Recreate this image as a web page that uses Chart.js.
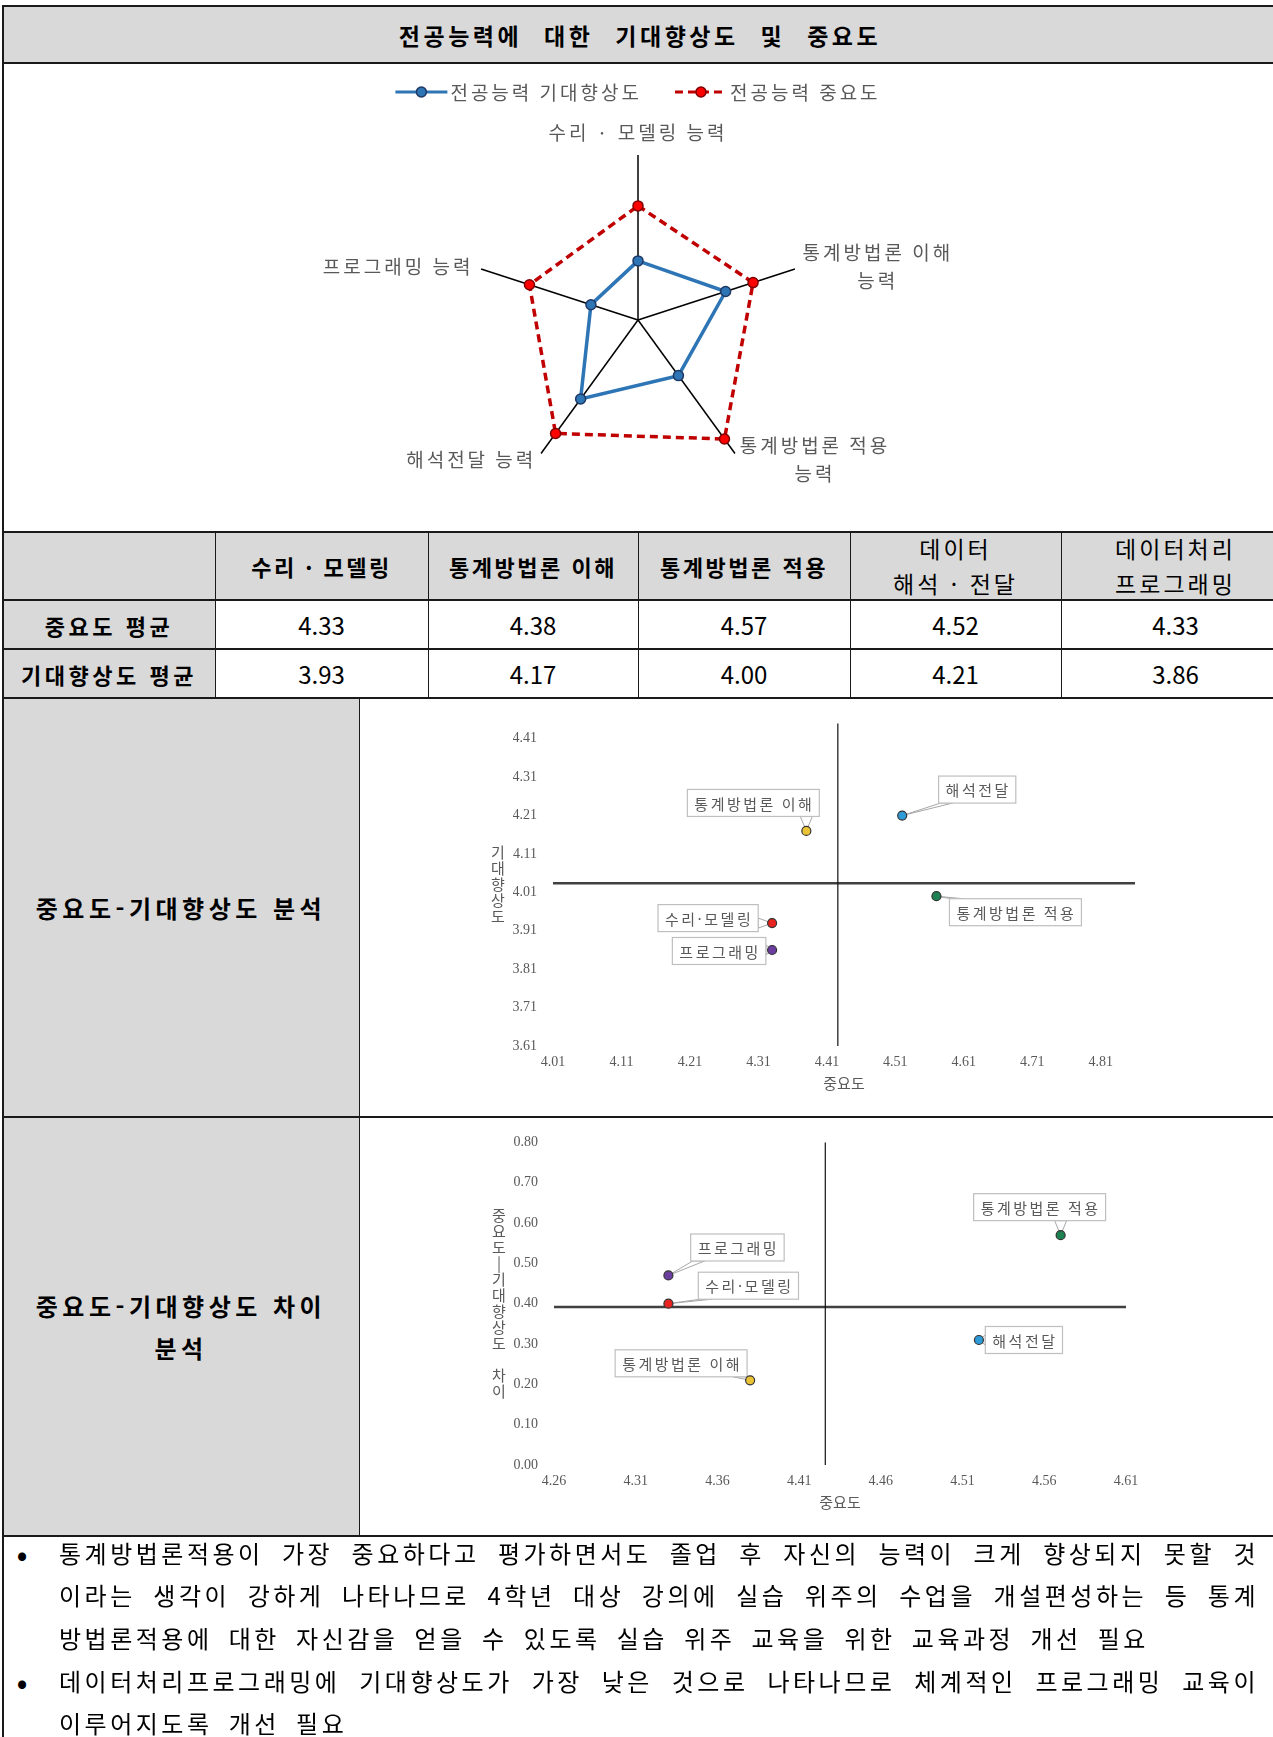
<!DOCTYPE html>
<html lang="ko">
<head>
<meta charset="utf-8">
<script src="https://cdn.jsdelivr.net/npm/chart.js@4.4.1/dist/chart.umd.min.js"></script>
<style>
  body { margin:0; width:1273px; height:1737px; overflow:hidden; background:#fff; position:relative;
         font-family:"Noto Sans CJK KR", sans-serif; color:#000; }
  .cell { position:absolute; display:flex; align-items:center; justify-content:center; text-align:center; box-sizing:border-box; }
  .gray { background:#d9d9d9; }
  .hl { position:absolute; left:3px; width:1290px; height:2px; background:#1a1a1a; }
  .vl { position:absolute; width:1px; background:#1a1a1a; }
  .b { font-weight:700; }
  .hd { font-size:22px; letter-spacing:2.5px; }
  .hd2 { font-size:23px; letter-spacing:3px; line-height:35px; }
  .val { font-size:24px; }
  .rowlab { font-size:22px; letter-spacing:3.5px; font-weight:700; }
  .sec { font-size:24px; letter-spacing:4.5px; font-weight:700; line-height:42px; }
  canvas { position:absolute; }
  .tl { position:absolute; left:59px; width:1200px; height:42px; line-height:42px; font-size:24px;
        letter-spacing:3.5px; word-spacing:6px; white-space:nowrap; }
  .j { text-align:justify; text-align-last:justify; }
  .bul { position:absolute; left:12px; width:20px; height:42px; line-height:42px; font-size:28px; font-weight:700; text-align:center; }
</style>
</head>
<body>

<!-- title -->
<div class="cell gray b" style="left:3px;top:6px;width:1290px;height:57px;font-size:23px;letter-spacing:3.5px;word-spacing:12px;">
  <span style="position:relative;left:-8px">전공능력에 대한 기대향상도 및 중요도</span>
</div>

<!-- radar -->
<canvas id="radar" width="1268" height="467" style="left:4px;top:64px"></canvas>

<!-- table -->
<div id="tbl"></div>

<!-- section cells -->
<div class="cell gray sec" style="left:3px;top:698px;width:356px;height:419px;">중요도-기대향상도 분석</div>
<div class="cell gray sec" style="left:3px;top:1117px;width:356px;height:419px;">중요도-기대향상도 차이<br>분석</div>

<canvas id="quad1" width="913" height="417" style="left:360px;top:699px"></canvas>
<canvas id="quad2" width="913" height="417" style="left:360px;top:1118px"></canvas>

<!-- notes -->
<div class="bul" style="top:1532px">•</div>
<div class="tl j" style="top:1532px">통계방법론적용이 가장 중요하다고 평가하면서도 졸업 후 자신의 능력이 크게 향상되지 못할 것</div>
<div class="tl j" style="top:1574px">이라는 생각이 강하게 나타나므로 4학년 대상 강의에 실습 위주의 수업을 개설편성하는 등 통계</div>
<div class="tl" style="top:1617px">방법론적용에 대한 자신감을 얻을 수 있도록 실습 위주 교육을 위한 교육과정 개선 필요</div>
<div class="bul" style="top:1660px">•</div>
<div class="tl j" style="top:1660px">데이터처리프로그래밍에 기대향상도가 가장 낮은 것으로 나타나므로 체계적인 프로그래밍 교육이</div>
<div class="tl" style="top:1702px">이루어지도록 개선 필요</div>

<!-- border lines -->
<div class="hl" style="top:5px"></div>
<div class="hl" style="top:62px"></div>
<div class="hl" style="top:531px"></div>
<div class="hl" style="top:599px"></div>
<div class="hl" style="top:648px"></div>
<div class="hl" style="top:697px"></div>
<div class="hl" style="top:1116px"></div>
<div class="hl" style="top:1535px"></div>
<div class="vl" style="left:2px;top:5px;height:1740px;width:2px"></div>
<div class="vl" style="left:215px;top:532px;height:166px"></div>
<div class="vl" style="left:428px;top:532px;height:166px"></div>
<div class="vl" style="left:638px;top:532px;height:166px"></div>
<div class="vl" style="left:850px;top:532px;height:166px"></div>
<div class="vl" style="left:1061px;top:532px;height:166px"></div>
<div class="vl" style="left:359px;top:698px;height:838px"></div>

<script>
// ---- data ----
const categories = ['수리·모델링', '통계방법론 이해', '통계방법론 적용', '해석전달', '프로그래밍'];
const radarLabels = ['수리 · 모델링 능력', ['통계방법론 이해', '능력'], ['통계방법론 적용', '능력'], '해석전달 능력', '프로그래밍 능력'];
const tableHeaders = ['수리 · 모델링', '통계방법론 이해', '통계방법론 적용', '데이터<br>해석 · 전달', '데이터처리<br>프로그래밍'];
const importance = [4.33, 4.38, 4.57, 4.52, 4.33];
const expectation = [3.93, 4.17, 4.00, 4.21, 3.86];
const gap = [0.40, 0.21, 0.57, 0.31, 0.47];
const pointColors = ['#e8231f', '#e9c235', '#1e8152', '#2e9ad6', '#6a3d9e'];

const xTicks1 = [4.01, 4.11, 4.21, 4.31, 4.41, 4.51, 4.61, 4.71, 4.81];
const yTicks1 = [3.61, 3.71, 3.81, 3.91, 4.01, 4.11, 4.21, 4.31, 4.41];
const xTicks2 = [4.26, 4.31, 4.36, 4.41, 4.46, 4.51, 4.56, 4.61];
const yTicks2 = [0.00, 0.10, 0.20, 0.30, 0.40, 0.50, 0.60, 0.70, 0.80];

// ---- table ----
const cols = [3, 215, 428, 638, 850, 1061, 1290];
let html = `<div class="cell gray" style="left:3px;top:532px;width:212px;height:68px"></div>`;
tableHeaders.forEach((h, i) => {
  const two = h.includes('<br>');
  html += `<div class="cell gray ${two ? 'hd2' : 'hd b'}" style="left:${cols[i+1]}px;top:532px;width:${cols[i+2]-cols[i+1]}px;height:68px">${h}</div>`;
});
html += `<div class="cell gray rowlab" style="left:3px;top:600px;width:212px;height:49px">중요도 평균</div>`;
html += `<div class="cell gray rowlab" style="left:3px;top:649px;width:212px;height:49px">기대향상도 평균</div>`;
importance.forEach((v, i) => {
  html += `<div class="cell val" style="left:${cols[i+1]}px;top:600px;width:${cols[i+2]-cols[i+1]}px;height:49px">${v.toFixed(2)}</div>`;
});
expectation.forEach((v, i) => {
  html += `<div class="cell val" style="left:${cols[i+1]}px;top:649px;width:${cols[i+2]-cols[i+1]}px;height:49px">${v.toFixed(2)}</div>`;
});
document.getElementById('tbl').innerHTML = html;

Chart.defaults.font.family = '"Noto Sans CJK KR", sans-serif';

// ---- radar ----
const radarLabelPlugin = {
  id: 'radarLabels',
  afterDraw(chart) {
    const s = chart.scales.r, ctx = chart.ctx;
    ctx.save();
    ctx.font = '19px "Noto Sans CJK KR"';
    ctx.letterSpacing = '3px';
    ctx.fillStyle = '#595959';
    ctx.textAlign = 'center';
    ctx.textBaseline = 'middle';
    const lh = 28;
    chart.data.labels.forEach((lab, i) => {
      const lines = [].concat(lab);
      const p = s.getPointPosition(i, s.drawingArea + 8);
      const w = Math.max(...lines.map(t => ctx.measureText(t).width));
      const mid = Math.abs(p.x - s.xCenter) < 4;
      let left = mid ? p.x - w / 2 : (p.x > s.xCenter ? p.x : p.x - w);
      let top = mid ? p.y - lines.length * lh : p.y - lines.length * lh / 2;
      lines.forEach((t, j) => ctx.fillText(t, left + w / 2, top + lh * j + lh / 2));
    });
    ctx.restore();
  }
};

const radarLegendPlugin = {
  id: 'radarLegend',
  afterDraw(chart) {
    const ctx = chart.ctx;
    ctx.save();
    ctx.font = '19px "Noto Sans CJK KR"';
    ctx.letterSpacing = '3px';
    const y = 28, lineW = 52, gapText = 3, gapItem = 33;
    const items = chart.data.datasets.map(d => ({ d, w: ctx.measureText(d.label).width }));
    const total = items.reduce((a, it) => a + lineW + gapText + it.w, 0) + gapItem * (items.length - 1);
    let x = chart.width / 2 - total / 2;
    items.forEach(({ d, w }) => {
      ctx.strokeStyle = d.borderColor;
      ctx.lineWidth = 3;
      ctx.setLineDash(d.borderDash || []);
      ctx.beginPath(); ctx.moveTo(x, y); ctx.lineTo(x + lineW, y); ctx.stroke();
      ctx.setLineDash([]);
      ctx.beginPath(); ctx.arc(x + lineW / 2, y, 5, 0, Math.PI * 2);
      ctx.fillStyle = d.pointBackgroundColor; ctx.fill();
      ctx.lineWidth = 1.5; ctx.strokeStyle = d.pointBorderColor; ctx.stroke();
      ctx.fillStyle = '#595959';
      ctx.textBaseline = 'middle';
      ctx.fillText(d.label, x + lineW + gapText, y + 1);
      x += lineW + gapText + w + gapItem;
    });
    ctx.restore();
  }
};

new Chart(document.getElementById('radar'), {
  type: 'radar',
  data: {
    labels: radarLabels,
    datasets: [{
      label: '전공능력 기대향상도',
      data: expectation,
      borderColor: '#2e75b6',
      borderWidth: 3.5,
      backgroundColor: 'transparent',
      fill: false,
      pointBackgroundColor: '#2e75b6',
      pointBorderColor: '#1f3864',
      pointBorderWidth: 1.5,
      pointRadius: 5,
    }, {
      label: '전공능력 중요도',
      data: importance,
      borderColor: '#c00000',
      borderDash: [8, 5],
      borderWidth: 3.5,
      backgroundColor: 'transparent',
      fill: false,
      pointBackgroundColor: '#ff0000',
      pointBorderColor: '#7f0000',
      pointBorderWidth: 1.5,
      pointRadius: 5,
    }]
  },
  options: {
    responsive: false,
    animation: false,
    layout: { padding: { top: 91, bottom: 46 } },
    plugins: { legend: { display: false }, tooltip: { enabled: false } },
    elements: { line: { tension: 0 } },
    scales: {
      r: {
        min: 3.5, max: 4.7,
        ticks: { display: false },
        grid: { display: false },
        angleLines: { color: '#000', lineWidth: 1.5 },
        pointLabels: { display: false }
      }
    }
  },
  plugins: [radarLabelPlugin, radarLegendPlugin]
});

// ---- quadrant scatter charts ----
const mean = a => a.reduce((s, v) => s + v, 0) / a.length;

const quadrantPlugin = {
  id: 'quadrant',
  beforeDatasetsDraw(chart, args, opts) {
    const { ctx, chartArea: a, scales: { x, y } } = chart;
    const px = x.getPixelForValue(opts.xLine), py = y.getPixelForValue(opts.yLine);
    ctx.save();
    ctx.strokeStyle = '#404040';
    ctx.lineWidth = 2.5;
    ctx.beginPath(); ctx.moveTo(a.left, py); ctx.lineTo(a.right, py); ctx.stroke();
    ctx.strokeStyle = '#111';
    ctx.lineWidth = 1.2;
    ctx.beginPath(); ctx.moveTo(px, a.top); ctx.lineTo(px, a.bottom); ctx.stroke();
    ctx.restore();
  }
};

const calloutPlugin = {
  id: 'callouts',
  beforeDatasetsDraw(chart, args, opts) {
    const ctx = chart.ctx, meta = chart.getDatasetMeta(0);
    ctx.save();
    ctx.font = '15px "Noto Sans CJK KR"';
    ctx.letterSpacing = '2.5px';
    meta.data.forEach((pt, i) => {
      const text = opts.labels[i];
      const w = ctx.measureText(text).width + 12, h = 27;
      const cx = pt.x + opts.offsets[i][0], cy = pt.y + opts.offsets[i][1];
      const L = cx - w / 2, T = cy - h / 2;
      const nx = Math.min(Math.max(pt.x, L), L + w), ny = Math.min(Math.max(pt.y, T), T + h);
      if (Math.hypot(pt.x - nx, pt.y - ny) > 4) {
        let b1, b2;
        if (ny === T || ny === T + h) {
          const bx = Math.min(Math.max(nx, L + 8), L + w - 8);
          b1 = [bx - 6, ny]; b2 = [bx + 6, ny];
        } else {
          const by = Math.min(Math.max(ny, T + 6), T + h - 6);
          b1 = [nx, by - 5]; b2 = [nx, by + 5];
        }
        ctx.beginPath();
        ctx.moveTo(pt.x, pt.y); ctx.lineTo(b1[0], b1[1]); ctx.lineTo(b2[0], b2[1]); ctx.closePath();
        ctx.fillStyle = '#fff'; ctx.fill();
        ctx.strokeStyle = '#a6a6a6'; ctx.lineWidth = 1; ctx.stroke();
      }
      ctx.fillStyle = '#fff';
      ctx.fillRect(L, T, w, h);
      ctx.strokeStyle = '#bfbfbf'; ctx.lineWidth = 1.2;
      ctx.strokeRect(L, T, w, h);
      ctx.fillStyle = '#595959';
      ctx.textAlign = 'center';
      ctx.textBaseline = 'middle';
      ctx.fillText(text, cx + 1, cy + 1);
    });
    ctx.restore();
  }
};

const axisTitlePlugin = {
  id: 'axisTitles',
  afterDraw(chart, args, opts) {
    const { ctx, chartArea: a } = chart;
    ctx.save();
    ctx.font = '15px "Noto Sans CJK KR"';
    ctx.fillStyle = '#595959';
    ctx.textAlign = 'center';
    ctx.textBaseline = 'middle';
    ctx.fillText(opts.x, (a.left + a.right) / 2, a.bottom + 37);
    const chars = [...opts.y].map(c => c === '-' ? '|' : c);
    const step = 16, cy = (a.top + a.bottom) / 2;
    chars.forEach((c, i) => ctx.fillText(c, a.left - 55, cy + (i - (chars.length - 1) / 2) * step));
    ctx.restore();
  }
};

function quadrantChart(id, xs, ys, xTicks, yTicks, xRange, yRange, yTitle, offsets, pad) {
  const tickFont = { family: '"Liberation Serif", serif', size: 14 };
  return new Chart(document.getElementById(id), {
    type: 'scatter',
    data: {
      datasets: [{
        data: xs.map((v, i) => ({ x: v, y: ys[i] })),
        pointBackgroundColor: pointColors,
        pointBorderColor: '#333',
        pointBorderWidth: 1.2,
        pointRadius: 4.5,
      }]
    },
    options: {
      responsive: false,
      animation: false,
      layout: { padding: pad },
      plugins: {
        legend: { display: false },
        tooltip: { enabled: false },
        quadrant: { xLine: mean(xs), yLine: mean(ys) },
        callouts: { labels: categories, offsets },
        axisTitles: { x: '중요도', y: yTitle }
      },
      scales: {
        x: {
          type: 'linear', min: xRange[0], max: xRange[1],
          grid: { display: false, drawTicks: false }, border: { display: false },
          afterBuildTicks: s => { s.ticks = xTicks.map(v => ({ value: v })); },
          afterFit: s => { s.height = 30; },
          ticks: { padding: 8, color: '#595959', font: tickFont, maxRotation: 0, autoSkip: false, callback: v => v.toFixed(2) }
        },
        y: {
          type: 'linear', min: yRange[0], max: yRange[1],
          grid: { display: false, drawTicks: false }, border: { display: false },
          afterBuildTicks: s => { s.ticks = yTicks.map(v => ({ value: v })); },
          afterFit: s => { s.width = 40; },
          ticks: { padding: 16, color: '#595959', font: tickFont, autoSkip: false, callback: v => v.toFixed(2) }
        }
      }
    },
    plugins: [quadrantPlugin, calloutPlugin, axisTitlePlugin]
  });
}

quadrantChart('quad1', importance, expectation, xTicks1, yTicks1, [4.01, 4.86], [3.61, 4.45], '기대향상도',
  [[-64, -5], [-53, -28], [79, 16], [75, -26], [-53, 1]],
  { left: 153, right: 138, top: 19, bottom: 40 });

quadrantChart('quad2', importance, gap, xTicks2, yTicks2, [4.26, 4.61], [0, 0.8], '중요도-기대향상도 차이',
  [[80, -18], [-69, -17], [-21, -28], [45, 0], [69, -28]],
  { left: 154, right: 147, top: 18, bottom: 40 });
</script>
</body>
</html>
